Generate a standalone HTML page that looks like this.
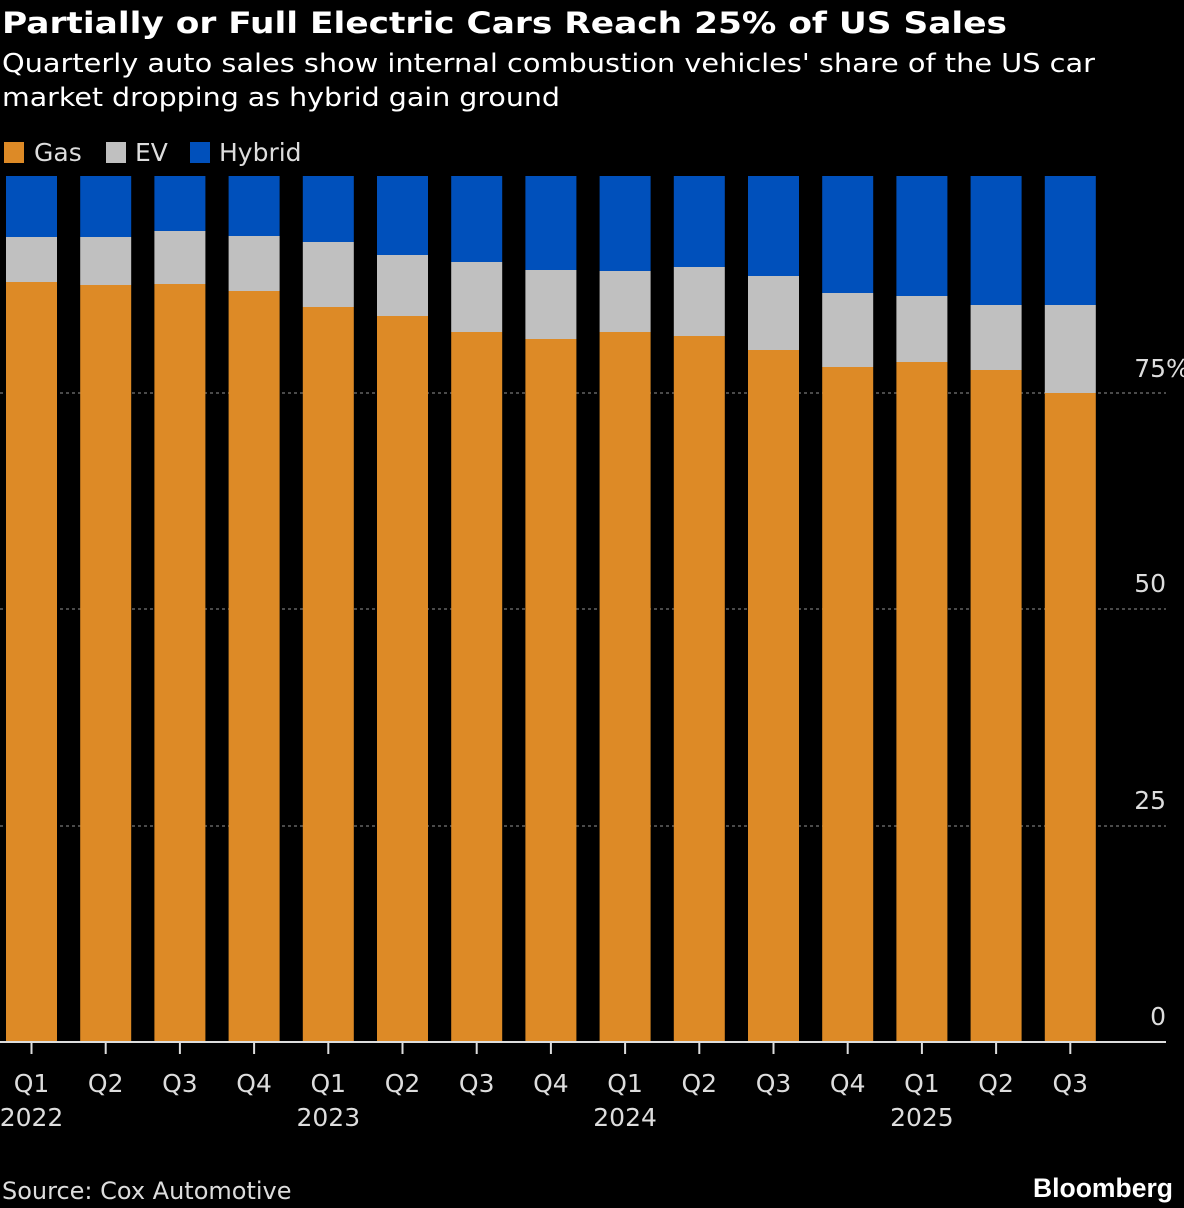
<!DOCTYPE html>
<html><head><meta charset="utf-8"><style>
html,body{margin:0;padding:0;background:#000;}
svg{display:block;font-family:"DejaVu Sans","Liberation Sans",sans-serif;}
</style></head><body>
<svg width="1184" height="1208" viewBox="0 0 1184 1208" xmlns="http://www.w3.org/2000/svg">
<rect width="1184" height="1208" fill="#000"/>
<text x="2" y="33" font-size="29" font-weight="bold" fill="#fff" textLength="1005" lengthAdjust="spacingAndGlyphs">Partially or Full Electric Cars Reach 25% of US Sales</text>
<text x="2" y="72" font-size="26" fill="#fff" textLength="1093" lengthAdjust="spacingAndGlyphs">Quarterly auto sales show internal combustion vehicles' share of the US car</text>
<text x="2" y="106" font-size="26" fill="#fff" textLength="558" lengthAdjust="spacingAndGlyphs">market dropping as hybrid gain ground</text>
<rect x="4" y="142" width="20" height="21" fill="#dd8a26"/>
<text x="34" y="161" font-size="25" fill="#ddd">Gas</text>
<rect x="106" y="142" width="20" height="21" fill="#c0c0c0"/>
<text x="135" y="161" font-size="25" fill="#ddd">EV</text>
<rect x="190" y="142" width="20" height="21" fill="#0050bb"/>
<text x="219" y="161" font-size="25" fill="#ddd">Hybrid</text>
<g stroke="#777" stroke-width="1.2" stroke-dasharray="3,3">
<line x1="0" x2="1166" y1="393" y2="393"/>
<line x1="0" x2="1166" y1="609" y2="609"/>
<line x1="0" x2="1166" y1="826" y2="826"/>
</g>
<g font-size="25" fill="#ddd" text-anchor="end">
<text x="1166" y="377">75</text><text x="1166" y="377" text-anchor="start">%</text>
<text x="1166" y="592">50</text>
<text x="1166" y="809">25</text>
<text x="1166" y="1025">0</text>
</g>
<g id="bars"></g>
<line x1="0" x2="1166" y1="1042" y2="1042" stroke="#ddd" stroke-width="2"/>
<g id="ticks" stroke="#ddd" stroke-width="2"></g>
<g id="xl" font-size="25" fill="#ddd" text-anchor="middle"></g>
<text x="2" y="1199" font-size="24" fill="#ddd">Source: Cox Automotive</text>
<text x="1173" y="1197" font-size="27" font-weight="bold" fill="#fff" text-anchor="end" font-family="Liberation Sans, sans-serif" textLength="140" lengthAdjust="spacingAndGlyphs">Bloomberg</text>
<script>
var gas=[282,285,284,291,307,316,332,339,332,336,350,367,362,370,393];
var ev=[237,237,231,236,242,255,262,270,271,267,276,293,296,305,305];
var ns="http://www.w3.org/2000/svg",b=document.getElementById('bars'),t=document.getElementById('ticks'),xl=document.getElementById('xl');
function el(p,tag,a,txt){var e=document.createElementNS(ns,tag);for(var k in a)e.setAttribute(k,a[k]);if(txt)e.textContent=txt;p.appendChild(e);}
var q=['Q1','Q2','Q3','Q4'],yr={0:'2022',4:'2023',8:'2024',12:'2025'};
for(var i=0;i<15;i++){var x=6+i*74.2,c=x+25.5;
el(b,'rect',{x:x,y:176,width:51,height:ev[i]-176,fill:'#0050bb'});
el(b,'rect',{x:x,y:ev[i],width:51,height:gas[i]-ev[i],fill:'#c0c0c0'});
el(b,'rect',{x:x,y:gas[i],width:51,height:1042-gas[i],fill:'#dd8a26'});
el(t,'line',{x1:c,x2:c,y1:1042,y2:1054});
el(xl,'text',{x:c,y:1092},q[i%4]);
if(yr[i])el(xl,'text',{x:c,y:1126},yr[i]);}
</script>
</svg>
</body></html>
